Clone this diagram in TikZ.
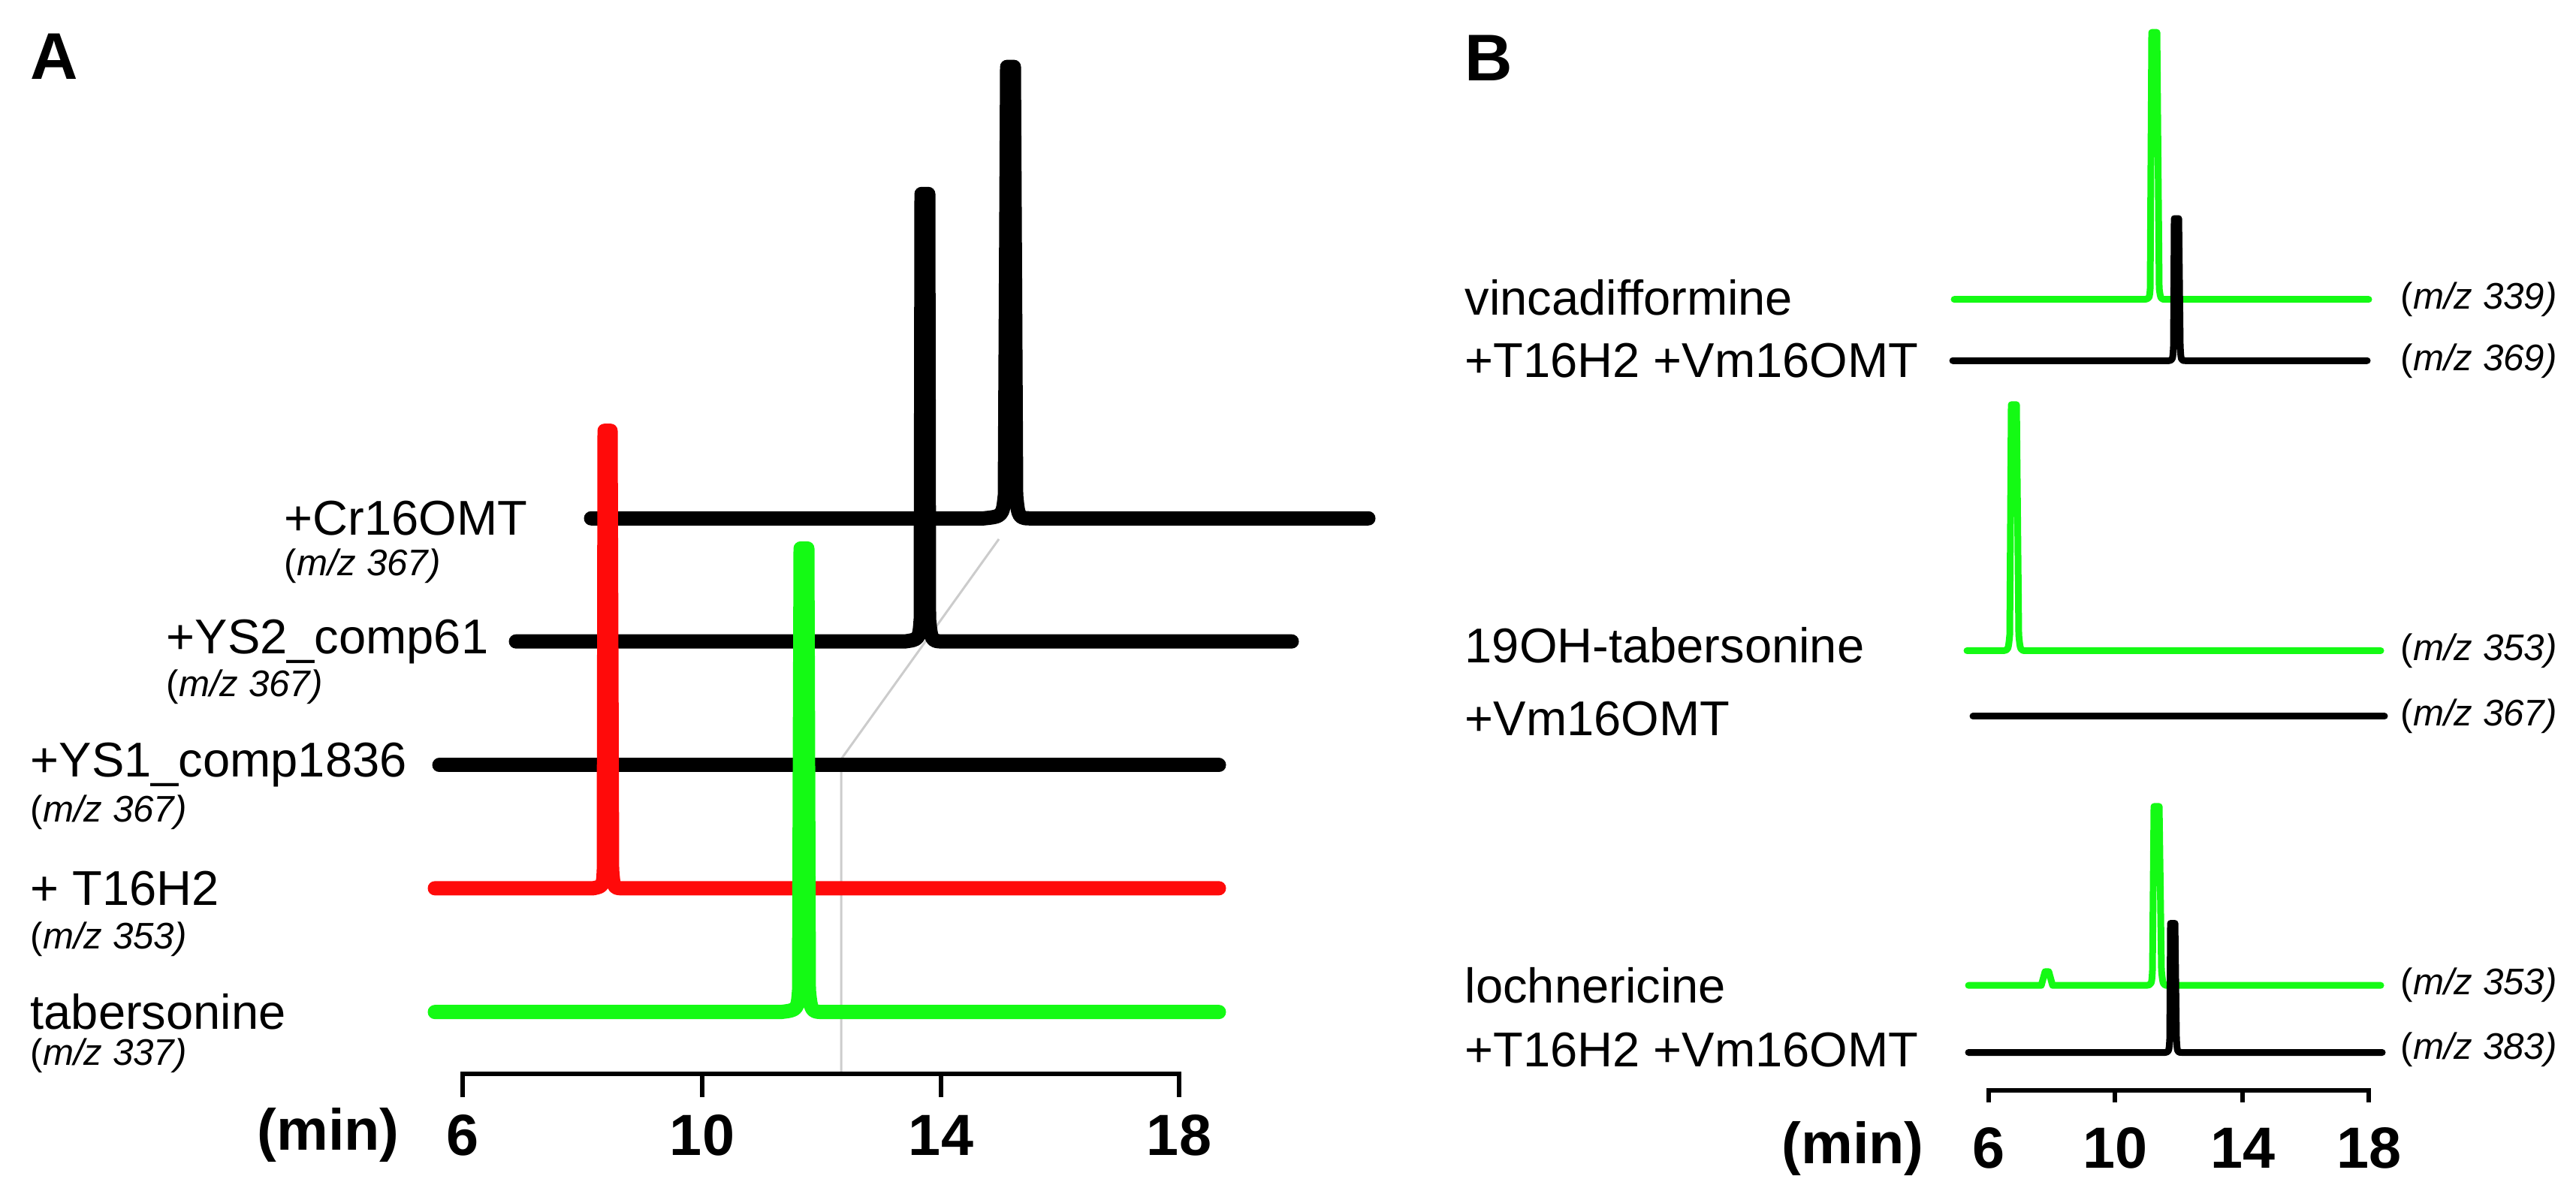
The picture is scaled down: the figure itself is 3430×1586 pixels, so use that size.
\documentclass[tikz,border=0pt]{standalone}
\usepackage{fontspec}
\setmainfont{Liberation Sans}
\definecolor{gr}{RGB}{20,250,20}
\definecolor{rd}{RGB}{255,10,10}
\begin{document}
\begin{tikzpicture}[x=0.01cm,y=-0.01cm,
  thick trace/.style={line width=19*0.01cm,line cap=round,line join=round},
  thin trace/.style={line width=9*0.01cm,line cap=round,line join=round},
  lab/.style={anchor=west,inner sep=0pt,font=\fontsize{18.5}{22}\selectfont},
  mz/.style={anchor=west,inner sep=0pt,font=\fontsize{14}{17}\selectfont},
  tick/.style={anchor=center,inner sep=0pt,font=\fontsize{22}{26}\selectfont\bfseries},
  panel/.style={anchor=center,inner sep=0pt,font=\fontsize{25}{30}\selectfont\bfseries},
  axisline/.style={line width=6*0.01cm}]
\useasboundingbox (0,0) rectangle (3430,1586);
% ---------- Panel A ----------
\begin{scope}[yscale=0.8907]
\node[panel] (pA) at (72,85) {A};
\draw[gray!40,line width=3*0.01cm] (1120,1606) -- (1120,1135) -- (1330,806);
% Cr16OMT
\draw[thick trace] (787,775) -- (1310,775) .. controls (1335,772) .. (1338,740) -- (1341,100) -- (1350,100) -- (1353,740) .. controls (1356,775) .. (1375,775) -- (1822,775);
% YS2
\draw[thick trace] (687,959) -- (1205,959) .. controls (1224,956) .. (1226,925) -- (1227,290) -- (1236,290) -- (1237,925) .. controls (1240,959) .. (1258,959) -- (1720,959);
% YS1
\draw[thick trace] (585,1144) -- (1623,1144);
% T16H2
\draw[thick trace,rd] (579,1328) -- (790,1328) .. controls (803,1325) .. (804,1300) -- (805,644) -- (813,644) -- (815,1300) .. controls (817,1328) .. (830,1328) -- (1623,1328);
% tabersonine
\draw[thick trace,gr] (579,1513) -- (1040,1513) .. controls (1062,1510) .. (1064,1480) -- (1066,820) -- (1075,820) -- (1077,1480) .. controls (1080,1513) .. (1098,1513) -- (1623,1513);
% labels A
\node[lab] (l1) at (378,775) {+Cr16OMT};
\node[mz] (m1) at (378,846) {(\textit{m/z 367)}};
\node[lab] (l2) at (221,959) {+YS2\_comp61};
\node[mz] (m2) at (221,1027) {(\textit{m/z 367)}};
\node[lab] (l3) at (40,1144) {+YS1\_comp1836};
\node[mz] (m3) at (40,1214) {(\textit{m/z 367)}};
\node[lab] (l4) at (40,1328) {+ T16H2};
\node[mz] (m4) at (40,1404) {(\textit{m/z 353)}};
\node[lab] (l5) at (40,1513) {tabersonine};
\node[mz] (m5) at (40,1578) {(\textit{m/z 337)}};
% axis A
\draw[axisline] (616,1640) -- (616,1606) -- (1570,1606) -- (1570,1640);
\draw[axisline] (935,1606) -- (935,1640);
\draw[axisline] (1253,1606) -- (1253,1640);
\node[tick] (aminA) at (437,1697) {(min)};
\node[tick] (a6) at (616,1697) {6};
\node[tick] (a10) at (935,1697) {10};
\node[tick] (a14) at (1253,1697) {14};
\node[tick] (a18) at (1570,1697) {18};
\end{scope}
% ---------- Panel B ----------
\begin{scope}[yscale=0.9606]
\node[panel] (pB) at (1982,80) {B};
\draw[thin trace,gr] (2602,415) -- (2855,415) .. controls (2862,414) .. (2863,400) -- (2865,45) -- (2872,45) -- (2875,400) .. controls (2877,415) .. (2884,415) -- (3154,415);
\draw[thin trace] (2600,500) -- (2888,500) .. controls (2893,499) .. (2894,480) -- (2895,303) -- (2901,303) -- (2903,480) .. controls (2904,500) .. (2910,500) -- (3152,500);
\draw[thin trace,gr] (2619,902) -- (2668,902) .. controls (2674,901) .. (2676,880) -- (2678,561) -- (2685,561) -- (2688,880) .. controls (2690,902) .. (2698,902) -- (3170,902);
\draw[thin trace] (2627,993) -- (3175,993);
\draw[thin trace,gr] (2621,1366) -- (2718,1366) -- (2723,1347) -- (2728,1347) -- (2733,1366) -- (2858,1366) .. controls (2865,1365) .. (2866,1345) -- (2868,1118) -- (2875,1118) -- (2878,1345) .. controls (2880,1366) .. (2887,1366) -- (3170,1366);
\draw[thin trace] (2621,1459) -- (2883,1459) .. controls (2888,1458) .. (2889,1440) -- (2890,1280) -- (2896,1280) -- (2898,1440) .. controls (2899,1459) .. (2905,1459) -- (3172,1459);
\node[lab] (b1) at (1950,413) {vincadifformine};
\node[lab] (b2) at (1950,500) {+T16H2 +Vm16OMT};
\node[lab] (b3) at (1950,895) {19OH-tabersonine};
\node[lab] (b4) at (1950,996) {+Vm16OMT};
\node[lab] (b5) at (1950,1366) {lochnericine};
\node[lab] (b6) at (1950,1455) {+T16H2 +Vm16OMT};
\node[mz] (n1) at (3196,415) {(\textit{m/z 339)}};
\node[mz] (n2) at (3196,500) {(\textit{m/z 369)}};
\node[mz] (n3) at (3196,902) {(\textit{m/z 353)}};
\node[mz] (n4) at (3196,993) {(\textit{m/z 367)}};
\node[mz] (n5) at (3196,1366) {(\textit{m/z 353)}};
\node[mz] (n6) at (3196,1455) {(\textit{m/z 383)}};
\draw[axisline] (2648,1528) -- (2648,1512) -- (3154,1512) -- (3154,1528);
\draw[axisline] (2816,1512) -- (2816,1528);
\draw[axisline] (2986,1512) -- (2986,1528);
\node[tick] (aminB) at (2467,1592) {(min)};
\node[tick] (b6t) at (2648,1592) {6};
\node[tick] (b10t) at (2816,1592) {10};
\node[tick] (b14t) at (2986,1592) {14};
\node[tick] (b18t) at (3154,1592) {18};
\end{scope}
\end{tikzpicture}
\end{document}
